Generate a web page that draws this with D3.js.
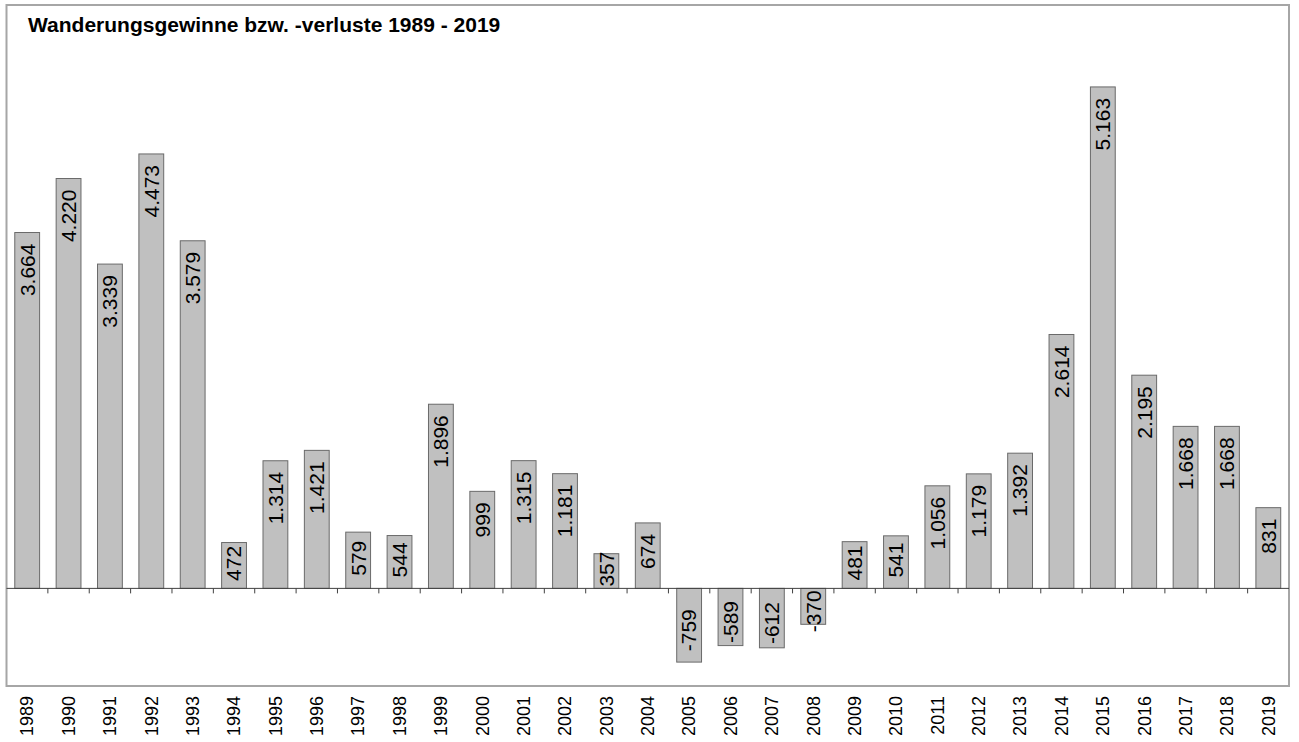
<!DOCTYPE html>
<html>
<head>
<meta charset="utf-8">
<script src="https://cdn.jsdelivr.net/npm/d3@7"></script>
<style>
  html, body { margin: 0; padding: 0; background: #fff; }
  svg { display: block; font-family: Arial, "Liberation Sans", sans-serif; }
</style>
</head>
<body>
<svg id="chart" width="1299" height="742"></svg>
<script>
// Net migration per year (gains positive, losses negative)
const years = ["1989","1990","1991","1992","1993","1994","1995","1996","1997","1998",
               "1999","2000","2001","2002","2003","2004","2005","2006","2007","2008",
               "2009","2010","2011","2012","2013","2014","2015","2016","2017","2018","2019"];
const saldo = [3664, 4220, 3339, 4473, 3579, 472, 1314, 1421, 579, 544,
               1896, 999, 1315, 1181, 357, 674, -759, -589, -612, -370,
               481, 541, 1056, 1179, 1392, 2614, 5163, 2195, 1668, 1668, 831];
const titleText = "Wanderungsgewinne bzw. -verluste 1989 - 2019";
const yDomain = [-1000, 5500];

const svg = d3.select("#chart");
const frame = { left: 6.5, right: 1289, top: 5, bottom: 686 };

const de = d3.formatLocale({ decimal: ",", thousands: ".", grouping: [3], currency: ["", " €"], minus: "-" });
const fmt = de.format(",d");

const x = d3.scaleBand()
  .domain(years)
  .range([frame.left, frame.right])
  .paddingInner(0.4)
  .paddingOuter(0.2);

const y = d3.scaleLinear().domain(yDomain).range([685.5, 54.2]);
const y0 = y(0);

// outer frame
svg.append("rect")
  .attr("x", frame.left).attr("y", frame.top)
  .attr("width", frame.right - frame.left).attr("height", frame.bottom - frame.top)
  .attr("fill", "none").attr("stroke", "#a6a6a6").attr("stroke-width", 2);

// title
svg.append("text")
  .attr("x", 28).attr("y", 31.5)
  .attr("font-size", 21).attr("font-weight", "bold").attr("fill", "#000")
  .text(titleText);

const data = years.map((yr, i) => ({ year: yr, value: saldo[i] }));

// bars
svg.append("g").selectAll("rect")
  .data(data).join("rect")
  .attr("x", d => x(d.year))
  .attr("width", x.bandwidth())
  .attr("y", d => Math.min(y(d.value), y0))
  .attr("height", d => Math.abs(y(d.value) - y0))
  .attr("fill", "#c0c0c0")
  .attr("stroke", "#6a6a6a")
  .attr("stroke-width", 1);

// zero line with category ticks
const step = x.step();
const axis = svg.append("g");
axis.append("line")
  .attr("x1", frame.left).attr("x2", frame.right)
  .attr("y1", y0).attr("y2", y0)
  .attr("stroke", "#404040").attr("stroke-width", 1);
axis.selectAll("line.tick")
  .data(years.slice(1)).join("line")
  .attr("class", "tick")
  .attr("x1", d => x(d) - step * x.paddingInner() / 2)
  .attr("x2", d => x(d) - step * x.paddingInner() / 2)
  .attr("y1", y0).attr("y2", y0 + 5)
  .attr("stroke", "#404040").attr("stroke-width", 1);

// value labels, rotated inside the bars
const labels = svg.append("g").selectAll("text")
  .data(data).join("text")
  .attr("font-size", 21)
  .attr("fill", "#000")
  .attr("text-anchor", "middle")
  .attr("dy", "0.35em")
  .text(d => fmt(d.value));

labels.each(function(d) {
  const len = this.getComputedTextLength();
  const cx = x(d.year) + x.bandwidth() / 2;
  const top = Math.min(y(d.value), y0);
  const bot = Math.max(y(d.value), y0);
  const mid = (top + bot) / 2;
  let cy;
  if (d.value >= 0) {
    cy = Math.min(mid - 2, top + 11 + len / 2);
  } else {
    cy = Math.max(mid + 5, bot - 11 - len / 2);
  }
  d3.select(this).attr("transform", `translate(${cx},${cy}) rotate(-90)`);
});

// year labels below the plot
svg.append("g").selectAll("text")
  .data(years).join("text")
  .attr("font-size", 18)
  .attr("fill", "#000")
  .attr("text-anchor", "end")
  .attr("dy", "0.35em")
  .attr("transform", d => `translate(${x(d) + x.bandwidth() / 2},696) rotate(-90)`)
  .text(d => d);
</script>
</body>
</html>
